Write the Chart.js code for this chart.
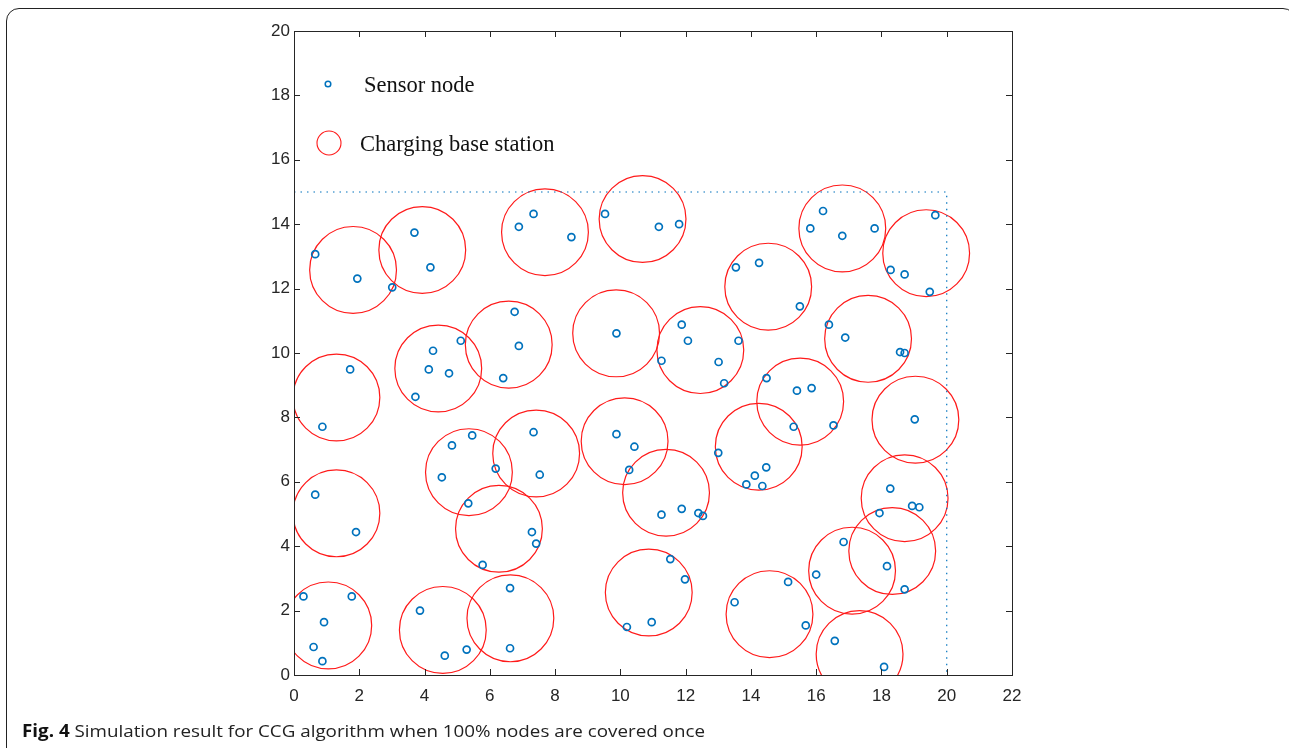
<!DOCTYPE html>
<html lang="en">
<head>
<meta charset="utf-8"/>
<title>CCG simulation result</title>
<style>
    body, html {
      margin: 0;
      padding: 0;
      width: 1289px;
      height: 748px;
      overflow: hidden;
      background: #fff;
    }
    .frame {
      position: absolute;
      left: 6px;
      top: 8px;
      width: 1290px;
      height: 800px;
      border: 1.6px solid #222;
      border-radius: 13px;
      box-sizing: border-box;
    }
    #chart {
      position: absolute;
      left: 0;
      top: 0;
    }
    .caption {
      position: absolute;
      left: 22px;
      top: 719px;
      font-family: 'Open Sans', sans-serif;
      font-size: 17px;
      color: #222;
      white-space: nowrap;
      transform-origin: 0 0;
    }
    .caption b {
      color: #111;
    }
  </style>
</head>
<body>
<div class="frame"></div>
<canvas id="chart" width="1289" height="748"></canvas>
<div class="caption" id="caption"><b>Fig. 4</b> Simulation result for CCG algorithm when 100% nodes are covered once</div>
<script src="https://cdn.jsdelivr.net/npm/chart.js"></script>
<script>
    // sensor nodes (100)
    const sensorX = [0.65, 1.94, 3.01, 3.69, 4.18, 6.89, 7.34, 8.50, 9.53, 11.18,
                     11.80, 16.21, 15.82, 16.80, 17.79, 19.65, 18.28, 18.71, 19.48, 13.54,
                     14.25, 15.50, 1.72, 0.87, 4.26, 4.13, 4.75, 3.72, 5.11, 6.76,
                     6.89, 6.41, 9.88, 11.88, 12.07, 13.62, 11.26, 13.01, 13.18, 16.39,
                     16.89, 18.57, 18.71, 14.48, 15.41, 15.86, 15.31, 16.53, 19.02, 5.46,
                     7.34, 9.88, 10.43, 10.27, 4.84, 4.53, 6.18, 5.34, 7.53, 7.29,
                     7.42, 5.78, 0.65, 1.90, 0.29, 1.77, 0.92, 0.60, 0.87, 3.86,
                     4.62, 5.29, 6.62, 6.62, 10.20, 10.96, 11.53, 11.98, 11.26, 11.88,
                     12.39, 12.53, 13.00, 14.47, 14.12, 13.86, 14.35, 13.50, 15.14, 15.68,
                     16.00, 16.84, 18.17, 18.71, 16.57, 18.08, 18.27, 18.94, 19.16, 17.94];
    const sensorY = [13.07, 12.31, 12.04, 13.74, 12.66, 13.92, 14.32, 13.60, 14.32, 13.92,
                     14.00, 14.41, 13.87, 13.64, 13.87, 14.28, 12.58, 12.44, 11.90, 12.66,
                     12.80, 11.45, 9.49, 7.71, 10.07, 9.49, 9.37, 8.64, 10.38, 11.28,
                     10.22, 9.22, 10.61, 10.88, 10.38, 10.38, 9.76, 9.72, 9.06, 10.88,
                     10.48, 10.03, 10.00, 9.22, 8.83, 8.91, 7.71, 7.75, 7.94, 7.44,
                     7.54, 7.48, 7.09, 6.37, 7.13, 6.14, 6.41, 5.33, 6.22, 4.44,
                     4.08, 3.42, 5.60, 4.44, 2.44, 2.44, 1.64, 0.87, 0.43, 2.00,
                     0.60, 0.79, 2.70, 0.83, 1.49, 1.64, 3.60, 2.97, 4.98, 5.16,
                     5.03, 4.94, 6.90, 6.45, 6.19, 5.92, 5.87, 2.26, 2.89, 1.54,
                     3.12, 4.13, 3.38, 2.66, 1.06, 0.25, 5.79, 5.25, 5.21, 5.03];

    // charging base stations
    const stationX = [1.81, 3.93, 7.69, 10.68, 16.80, 19.37, 14.53, 1.30, 4.42, 6.58,
                      9.87, 12.45, 17.59, 15.51, 19.04, 14.24, 10.13, 7.42, 5.36, 6.28,
                      1.30, 11.40, 18.71, 18.33, 17.10, 17.33, 14.57, 10.87, 6.63, 4.56,
                      1.05];
    const stationY = [12.58, 13.20, 13.75, 14.16, 13.87, 13.10, 12.06, 8.62, 9.52, 10.26,
                      10.61, 10.09, 10.44, 8.49, 7.93, 7.09, 7.26, 6.88, 6.30, 4.54,
                      5.02, 5.66, 5.49, 3.85, 3.24, 0.65, 1.89, 2.56, 1.76, 1.40,
                      1.54];
    const stationRadius = 1.33;

    // monitored field border (dotted)
    const fieldX = [0, 20, 20];
    const fieldY = [15, 15, 0];

    const xTicks = [0, 2, 4, 6, 8, 10, 12, 14, 16, 18, 20, 22];
    const yTicks = [0, 2, 4, 6, 8, 10, 12, 14, 16, 18, 20];

    const BLUE = '#0072BD';
    const AXIS = '#262626';

    function pts(xs, ys) {
      return xs.map((x, i) => ({ x: x, y: ys[i] }));
    }

    // box + inward ticks like matlab
    const boxPlugin = {
      id: 'box',
      afterDraw(chart) {
        const ctx = chart.ctx;
        const a = chart.chartArea;
        const sx = chart.scales.x, sy = chart.scales.y;
        const len = 6;
        ctx.save();
        ctx.strokeStyle = AXIS;
        ctx.lineWidth = 1;
        ctx.strokeRect(a.left + 0.5, a.top + 0.5, a.right - a.left, a.bottom - a.top);
        ctx.beginPath();
        xTicks.forEach(v => {
          const px = Math.round(sx.getPixelForValue(v)) + 0.5;
          ctx.moveTo(px, a.bottom);
          ctx.lineTo(px, a.bottom - len);
          ctx.moveTo(px, a.top);
          ctx.lineTo(px, a.top + len);
        });
        yTicks.forEach(v => {
          const py = Math.round(sy.getPixelForValue(v)) + 0.5;
          ctx.moveTo(a.left, py);
          ctx.lineTo(a.left + len, py);
          ctx.moveTo(a.right, py);
          ctx.lineTo(a.right - len, py);
        });
        ctx.stroke();

        // legend inside the axes
        ctx.font = '22.5px "Liberation Serif", "Times New Roman", serif';
        ctx.fillStyle = '#111';
        ctx.textBaseline = 'alphabetic';
        ctx.beginPath();
        ctx.strokeStyle = BLUE;
        ctx.lineWidth = 1.5;
        ctx.arc(a.left + 34, a.top + 53, 2.8, 0, Math.PI * 2);
        ctx.stroke();
        ctx.fillText('Sensor node', a.left + 70, a.top + 61);
        ctx.beginPath();
        ctx.strokeStyle = '#ff1a1a';
        ctx.lineWidth = 1.1;
        ctx.arc(a.left + 35, a.top + 112, 12, 0, Math.PI * 2);
        ctx.stroke();
        ctx.fillText('Charging base station', a.left + 66, a.top + 120);
        ctx.restore();
      }
    };

    const tickFont = { family: '"Liberation Sans", Arial, sans-serif', size: 17 };

    new Chart(document.getElementById('chart'), {
      type: 'scatter',
      data: {
        datasets: [
          {
            label: 'Field',
            data: pts(fieldX, fieldY),
            showLine: true,
            borderColor: BLUE,
            borderWidth: 1.2,
            borderDash: [1.5, 5],
            pointRadius: 0,
            fill: false
          },
          {
            label: 'Sensor node',
            data: pts(sensorX, sensorY),
            pointStyle: 'circle',
            pointRadius: 3.5,
            borderWidth: 1.7,
            borderColor: BLUE,
            backgroundColor: 'rgba(0,0,0,0)'
          },
          {
            label: 'Charging base station',
            data: pts(stationX, stationY),
            pointStyle: 'circle',
            pointRadius: (c) => {
              const s = c.chart.scales.x;
              return s ? Math.abs(s.getPixelForValue(stationRadius) - s.getPixelForValue(0)) : 0;
            },
            borderWidth: 1.2,
            borderColor: '#ff1a1a',
            backgroundColor: 'rgba(0,0,0,0)',
            clip: 0
          }
        ]
      },
      options: {
        responsive: false,
        animation: false,
        events: [],
        layout: { padding: { left: 244, right: 277, top: 31, bottom: 33 } },
        plugins: {
          legend: { display: false },
          tooltip: { enabled: false }
        },
        scales: {
          x: {
            type: 'linear',
            min: 0,
            max: 22,
            afterBuildTicks: (s) => { s.ticks = xTicks.map(v => ({ value: v })); },
            afterFit: (s) => { s.height = 40; },
            grid: { display: false, drawTicks: false },
            border: { display: false },
            ticks: { color: AXIS, font: tickFont, padding: 11, maxRotation: 0 }
          },
          y: {
            type: 'linear',
            min: 0,
            max: 20,
            afterBuildTicks: (s) => { s.ticks = yTicks.map(v => ({ value: v })); },
            afterFit: (s) => { s.width = 50; },
            grid: { display: false, drawTicks: false },
            border: { display: false },
            ticks: { color: AXIS, font: tickFont, padding: 4 }
          }
        }
      },
      plugins: [boxPlugin]
    });

    // squeeze caption to the width of the original narrow face
    const cap = document.getElementById('caption');
    const w = cap.getBoundingClientRect().width;
    cap.style.transform = 'scaleX(' + (683 / w) + ')';
  </script>
</body>
</html>
